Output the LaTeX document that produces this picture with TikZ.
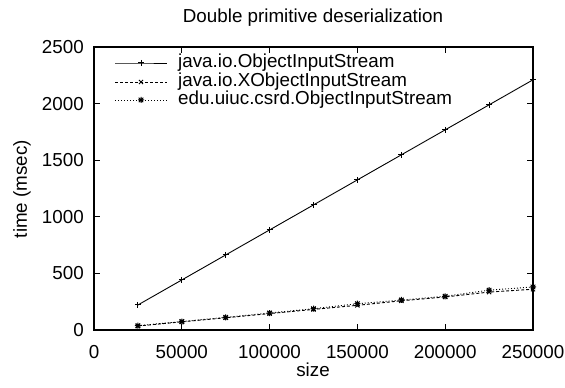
\documentclass[tikz,border=0pt]{standalone}
\usepackage{fontspec}
\setmainfont{Liberation Sans}
\usetikzlibrary{plotmarks}

% gnuplot-style asterisk: a plus and a cross drawn on top of each other
\pgfdeclareplotmark{gstar}{%
  \pgfpathmoveto{\pgfqpoint{-\pgfplotmarksize}{0pt}}%
  \pgfpathlineto{\pgfqpoint{\pgfplotmarksize}{0pt}}%
  \pgfpathmoveto{\pgfqpoint{0pt}{-\pgfplotmarksize}}%
  \pgfpathlineto{\pgfqpoint{0pt}{\pgfplotmarksize}}%
  \pgfpathmoveto{\pgfqpoint{-.75\pgfplotmarksize}{-.75\pgfplotmarksize}}%
  \pgfpathlineto{\pgfqpoint{.75\pgfplotmarksize}{.75\pgfplotmarksize}}%
  \pgfpathmoveto{\pgfqpoint{-.75\pgfplotmarksize}{.75\pgfplotmarksize}}%
  \pgfpathlineto{\pgfqpoint{.75\pgfplotmarksize}{-.75\pgfplotmarksize}}%
  \pgfusepathqstroke}

\begin{document}
\begin{tikzpicture}[x=1pt,y=1pt,
  font=\fontsize{18.8}{22}\selectfont,
  frame/.style={line width=1.1pt},
  tickmark/.style={line width=0.8pt},
  curve/.style={line width=0.9pt, mark size=3pt,
                mark options={solid,line width=1pt}},
  seriesA/.style={curve, mark=+},
  seriesB/.style={curve, mark=x, dash pattern=on 3pt off 2pt},
  seriesC/.style={curve, mark=gstar, dash pattern=on 1pt off 2pt},
  ticklabel/.style={inner sep=0pt},
]
\useasboundingbox (0,0) rectangle (565,388);

% title and axis labels
\node (title) at (313,370) {Double primitive deserialization};
\node (xlabel) at (313,18) {size};
\node[rotate=90] (ylabel) at (22,199) {time (msec)};

% plot frame
\draw[frame] (94,58) rectangle (533,341);

% x ticks (bottom and mirrored on top)
\foreach \v/\l in {0/0,50/50000,100/100000,150/150000,200/200000,250/250000}{
  \pgfmathsetmacro\xx{94+\v*1.756}
  \draw[tickmark] (\xx,58) -- ++(0,6);
  \draw[tickmark] (\xx,341) -- ++(0,-6);
  \node[ticklabel] at (\xx,36) {\l};
}
% y ticks (left and mirrored on right)
\foreach \v in {0,500,1000,1500,2000,2500}{
  \pgfmathsetmacro\yy{58+\v*0.1132}
  \draw[tickmark] (94,\yy) -- ++(6,0);
  \draw[tickmark] (533,\yy) -- ++(-6,0);
  \node[ticklabel, anchor=east] at (84,\yy) {\v};
}

% data, x in thousands
\begin{scope}[shift={(94,58)}, x=1.756pt, y=0.1132pt]
  \draw[seriesA] plot coordinates {(25,221) (50,442) (75,663) (100,884) (125,1105)
    (150,1326) (175,1547) (200,1768) (225,1989) (250,2210)};
  \draw[seriesB] plot coordinates {(25,35) (50,72) (75,108) (100,145) (125,182)
    (150,218) (175,258) (200,292) (225,335) (250,360)};
  \draw[seriesC] plot coordinates {(25,38) (50,75) (75,112) (100,150) (125,188)
    (150,232) (175,265) (200,298) (225,352) (250,380)};
\end{scope}

% legend
\draw[seriesA, mark indices={2}] plot coordinates {(115,325) (141,325) (167,325)};
\node[anchor=west, inner sep=0pt] (legA) at (178,325) {java.io.ObjectInputStream};
\draw[seriesB, mark indices={2}] plot coordinates {(115,306) (141,306) (167,306)};
\node[anchor=west, inner sep=0pt] (legB) at (178,306) {java.io.XObjectInputStream};
\draw[seriesC, mark indices={2}] plot coordinates {(115,288) (141,288) (167,288)};
\node[anchor=west, inner sep=0pt] (legC) at (178,288) {edu.uiuc.csrd.ObjectInputStream};
\end{tikzpicture}
\end{document}
